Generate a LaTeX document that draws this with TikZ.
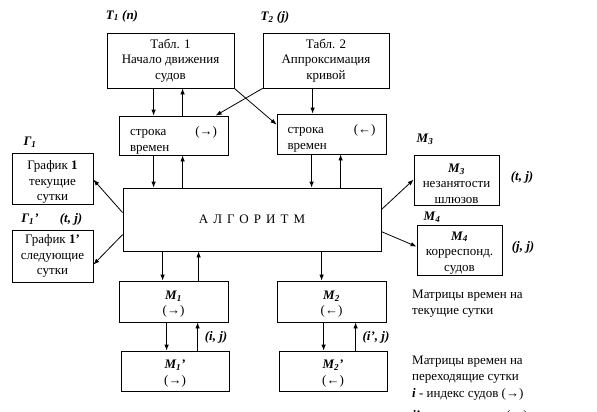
\documentclass[tikz,border=0pt]{standalone}
\usepackage{fontspec}
\setmainfont{Liberation Serif}
\usetikzlibrary{arrows.meta}
\newcommand{\bi}[1]{{\bfseries\itshape #1}}
\newcommand{\lift}[1]{\rule{0pt}{#1}}
\begin{document}
\begin{tikzpicture}[x=1pt,y=-1pt,
  box/.style={draw, line width=0.8pt, inner sep=0pt, align=center,
    font=\fontsize{13}{15.5}\selectfont},
  rowbox/.style={box, align=left},
  lbl/.style={font=\fontsize{13}{15}\selectfont\bfseries\itshape, inner sep=0pt},
  txt/.style={font=\fontsize{13}{16}\selectfont, align=left, inner sep=0pt, anchor=west},
  arr/.style={line width=0.8pt, -{Latex[length=6pt,width=4.5pt]}},
  ln/.style={line width=0.8pt}]
\clip (0,0) rectangle (597,412);
\fill[white] (0,0) rectangle (597,412);

% tables
\node[box, minimum width=127pt, minimum height=55pt] (t1) at (170.5,60.5)
  {Табл. 1\\Начало движения\\судов};
\node[box, minimum width=126pt, minimum height=55pt] (t2) at (326,60.5)
  {Табл. 2\\Аппроксимация\\кривой};
\node[lbl] (lt1) at (122,16) {T\textsubscript{1} (n)};
\node[lbl] (lt2) at (275,17) {T\textsubscript{2} (j)};

% time rows
\node[rowbox, minimum width=109pt, minimum height=39pt, text width=87pt] (s1) at (173.5,135.5)
  {\lift{19pt}строка\hfill(\textbf{→})\\времен};
\node[rowbox, minimum width=109pt, minimum height=40pt, text width=88pt] (s2) at (331.5,134)
  {\lift{18pt}строка\hfill(\textbf{←})\\времен};

% algorithm
\node[box, minimum width=258pt, minimum height=63pt] (alg) at (252,219.5)
  {\addfontfeature{LetterSpace=39}АЛГОРИТМ};

% schedules
\node[box, minimum width=81pt, minimum height=51pt] (g1) at (52.5,178.5)
  {\lift{16pt}График \textbf{1}\\текущие\\сутки};
\node[box, minimum width=81pt, minimum height=52pt] (g2) at (52.5,256)
  {График \textbf{1’}\\следующие\\сутки};
\node[lbl] (lg1) at (30,142) {Г\textsubscript{1}};
\node[lbl] (lg2) at (30,219) {Г\textsubscript{1}’};
\node[lbl] (lg2b) at (71,219) {(t, j)};

% M3, M4
\node[box, minimum width=85pt, minimum height=50pt] (m3) at (456.5,180)
  {\lift{16pt}\bi{M\textsubscript{3}}\\незанятости\\шлюзов};
\node[box, minimum width=85pt, minimum height=50pt] (m4) at (459.5,250)
  {\lift{14pt}\bi{M\textsubscript{4}}\\корреспонд.\\судов};
\node[lbl] (lm3) at (425,139) {M\textsubscript{3}};
\node[lbl] (lm3b) at (522,177) {(t, j)};
\node[lbl] (lm4) at (432,217) {M\textsubscript{4}};
\node[lbl] (lm4b) at (523,247) {(j, j)};

% time matrices
\node[box, minimum width=109pt, minimum height=41pt] (m1) at (173.5,301.5)
  {\lift{14pt}\bi{M\textsubscript{1}}\\(→)};
\node[box, minimum width=108pt, minimum height=40pt] (m1p) at (175,371)
  {\lift{14pt}\bi{M\textsubscript{1}’}\\(→)};
\node[box, minimum width=109pt, minimum height=41pt] (m2) at (331.5,301.5)
  {\lift{14pt}\bi{M\textsubscript{2}}\\(←)};
\node[box, minimum width=108pt, minimum height=40pt] (m2p) at (333,371)
  {\lift{14pt}\bi{M\textsubscript{2}’}\\(←)};
\node[lbl] (lij) at (216,337) {(i, j)};
\node[lbl] (lipj) at (376,337) {(i’, j)};

% notes
\node[txt] (n1) at (412,304) {Матрицы времен на\\текущие сутки};
\node[txt] (n2) at (412,370) {Матрицы времен на\\переходящие сутки};
\node[txt] (n3) at (412,394) {\bi{i} - индекс судов (→)};
\node[txt] (n4) at (412,416) {\bi{i’} - индекс судов (←)};

% connectors: tables <-> rows
\draw[arr] ([xshift=47pt]t1.south west) -- ([xshift=35pt]s1.north west);
\draw[arr] ([xshift=64pt]s1.north west) -- ([xshift=76pt]t1.south west);
\draw[arr] (t1.south east) -- ([yshift=-11pt]s2.north west);
\draw[arr] (t2.south west) -- ([xshift=97pt]s1.north west);
\draw[arr] ([xshift=50pt]t2.south west) -- ([xshift=36pt]s2.north west);

% rows <-> algorithm
\draw[arr] ([xshift=35pt]s1.south west) -- ([xshift=31pt]alg.north west);
\draw[arr] ([xshift=60pt]alg.north west) -- ([xshift=64pt]s1.south west);
\draw[arr] ([xshift=35pt]s2.south west) -- ([xshift=189pt]alg.north west);
\draw[arr] ([xshift=218pt]alg.north west) -- ([xshift=64pt]s2.south west);

% algorithm -> side outputs
\draw[arr] ([yshift=-25pt]alg.north west) -- ([yshift=-27pt]g1.north east);
\draw[arr] ([yshift=-47pt]alg.north west) -- ([yshift=-35pt]g2.north east);
\draw[arr] ([yshift=-22pt]alg.north east) -- ([yshift=-25pt]m3.north west);
\draw[arr] ([yshift=-44pt]alg.north east) -- ([yshift=-22pt]m4.north west);

% algorithm <-> matrices
\draw[arr] ([xshift=40pt]alg.south west) -- ([xshift=44pt]m1.north west);
\draw[arr] ([xshift=80pt]m1.north west) -- ([xshift=76pt]alg.south west);
\draw[arr] ([xshift=199pt]alg.south west) -- ([xshift=45pt]m2.north west);
\draw[arr] ([xshift=48pt]m1.south west) -- ([xshift=46pt]m1p.north west);
\draw[arr] ([xshift=77pt]m1p.north west) -- ([xshift=79pt]m1.south west);
\draw[arr] ([xshift=47pt]m2.south west) -- ([xshift=45pt]m2p.north west);
\draw[arr] ([xshift=77pt]m2p.north west) -- ([xshift=79pt]m2.south west);
\end{tikzpicture}
\end{document}
